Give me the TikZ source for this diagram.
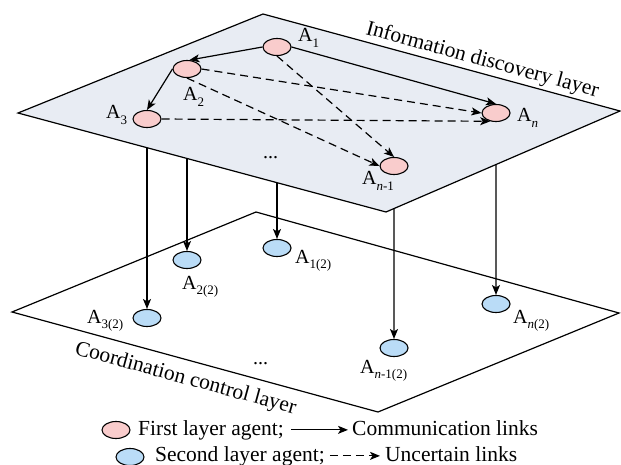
\documentclass[tikz,border=0pt]{standalone}
\usepackage{fontspec}
\setmainfont{Liberation Serif}
\usetikzlibrary{arrows.meta,calc,shapes.geometric}
\definecolor{planefill}{HTML}{E8ECF3}
\definecolor{agentpink}{HTML}{F9CCCC}
\definecolor{agentblue}{HTML}{BADCF7}
\newcommand{\lsub}[1]{\raisebox{-0.28em}{\fontsize{13}{13}\selectfont #1}}
\begin{document}
\begin{tikzpicture}[x=1pt,y=-1pt,
  plane/.style={draw=black, line width=1.2pt, line join=miter},
  agent/.style={ellipse, draw=black, line width=1.1pt, minimum width=28pt, minimum height=17pt, inner sep=0pt},
  first/.style={agent, fill=agentpink},
  second/.style={agent, fill=agentblue},
  lbl/.style={inner sep=0pt, anchor=base west, font=\fontsize{20}{20}\selectfont},
  txt/.style={inner sep=0pt, anchor=base west, font=\fontsize{21.5}{21.5}\selectfont},
  link/.style={line width=1.2pt, -{Stealth[length=10pt,width=8pt,inset=2.5pt]}},
  ulink/.style={link, dash pattern=on 8pt off 5pt},
]
\useasboundingbox (0,0) rectangle (621,465);

% plane corners
\coordinate (tL) at (18,113);
\coordinate (tT) at (263,14);
\coordinate (tR) at (620,111);
\coordinate (tB) at (386,212);
\coordinate (bL) at (12,312);
\coordinate (bT) at (256,212);
\coordinate (bR) at (619,313);
\coordinate (bB) at (378,412);

% coordination control layer
\draw[plane, fill=white] (bL) -- (bT) -- (bR) -- (bB) -- cycle;
\node[txt, rotate=-15.3] (botlabel) at (74,354) {Coordination control layer};

\node[second] (B1) at (277,248) {};
\node[second] (B2) at (187,260) {};
\node[second] (B3) at (147,318) {};
\node[second] (Bn) at (496,304) {};
\node[second] (Bn1) at (394,348) {};

\node[lbl] (lB1) at (295,263) {A\lsub{1(2)}};
\node[lbl] (lB2) at (182,289) {A\lsub{2(2)}};
\node[lbl] (lB3) at (87,323) {A\lsub{3(2)}};
\node[lbl] (lBn) at (513,323) {A\lsub{\textit{n}(2)}};
\node[lbl] (lBn1) at (360,373) {A\lsub{\textit{n}-1(2)}};
\node[lbl] (dots2) at (253,364) {...};

% information discovery layer
\draw[plane, fill=planefill] (tL) -- (tT) -- (tR) -- (tB) -- cycle;
\node[txt, rotate=-15.2] (toplabel) at (365,34) {Information discovery layer};

\node[first] (A1) at (277,47) {};
\node[first] (A2) at (187,69) {};
\node[first] (A3) at (147,119) {};
\node[first] (An) at (496,113) {};
\node[first] (An1) at (394,166) {};

\node[lbl] (lA1) at (298,42) {A\lsub{1}};
\node[lbl] (lA2) at (183,101) {A\lsub{2}};
\node[lbl] (lA3) at (106,119) {A\lsub{3}};
\node[lbl] (lAn) at (517,122) {A\lsub{\textit{n}}};
\node[lbl] (lAn1) at (362,185) {A\lsub{\textit{n}-1}};
\node[lbl] (dots1) at (263,159) {...};

% links in the first layer
\draw[link] (A1.west) -- (A2.75);
\draw[link] (A2.west) -- (A3.north);
\draw[link] (A1.east) -- (An.north);
\draw[ulink] (A2.east) -- (An.west);
\draw[ulink] (A3.east) -- (An.235);
\draw[ulink] (A1.south) -- (An1.north);
\draw[ulink] (A2.south) -- (An1.west);

% vertical links between layers
\coordinate (v1) at (intersection of tL--tB and A1--B1);
\coordinate (v2) at (intersection of tL--tB and A2--B2);
\coordinate (v3) at (intersection of tL--tB and A3--B3);
\coordinate (vn) at (intersection of tB--tR and An--Bn);
\coordinate (vn1) at (intersection of tB--tR and An1--Bn1);
\draw[link] (v1) -- (B1.north);
\draw[link] (v2) -- (B2.north);
\draw[link] (v3) -- (B3.north);
\draw[link] (vn) -- (Bn.north);
\draw[link] (vn1) -- (Bn1.north);

% legend
\node[first] (leg1) at (116,430) {};
\node[txt] (leg1t) at (138,435) {First layer agent;};
\node[txt] (leg1c) at (352,435) {Communication links};
\draw[link, shorten <=7pt, shorten >=4pt] (leg1t.east) -- (leg1t.east -| leg1c.west);
\node[second] (leg2) at (130,457) {};
\node[txt] (leg2t) at (155,461) {Second layer agent;};
\node[txt] (leg2c) at (385,461) {Uncertain links};
\draw[ulink, shorten <=5pt, shorten >=5pt] (leg2t.east) -- (leg2t.east -| leg2c.west);
\end{tikzpicture}
\end{document}
